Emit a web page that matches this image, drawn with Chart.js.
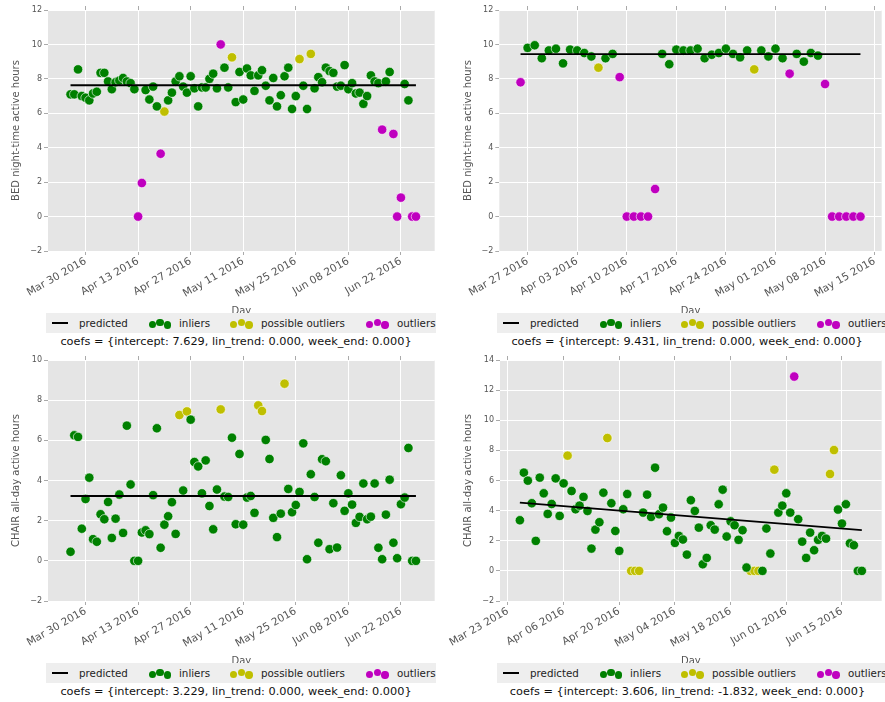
<!DOCTYPE html>
<html>
<head>
<meta charset="utf-8">
<script src="https://cdn.jsdelivr.net/npm/chart.js@4.4.1/dist/chart.umd.min.js"></script>
<style>
  html, body { margin: 0; padding: 0; background: #fff; overflow: hidden; }
  body { width: 885px; height: 702px; position: relative; font-family: "DejaVu Sans", sans-serif; }
  canvas { position: absolute; }
  .legend { position: absolute; height: 20px; width: 390px; background: #eeeeee; color: #222; font-size: 10.3px; z-index: 2; }
  .legend span { position: absolute; top: 0; line-height: 20px; white-space: nowrap; }
  .legend .line { position: absolute; top: 9px; left: 6px; width: 16px; height: 2px; background: #000; }
  .legend .dot { position: absolute; width: 7.4px; height: 7.4px; border-radius: 50%; }
  .coefs { position: absolute; font-size: 11.3px; color: #111; white-space: nowrap; transform: translate(-50%, -50%); z-index: 2; }
</style>
</head>
<body>
<script>
const MONTHS = ['Jan', 'Feb', 'Mar', 'Apr', 'May', 'Jun', 'Jul', 'Aug', 'Sep', 'Oct', 'Nov', 'Dec'];

// class letters: g = inlier, y = possible outlier, m = outlier (one per day from the start date)

// top left: BED night-time
const bedAStart = 'Mar 26 2016';
const bedAHours = [7.1, 7.1, 8.55, 7.0, 6.9, 6.75, 7.15, 7.25, 8.35, 8.35,
  7.85, 7.4, 7.8, 7.9, 8.05, 7.85, 7.75, 7.4, 0, 1.95,
  7.35, 6.8, 7.55, 6.4, 3.65, 6.1, 6.75, 7.2, 7.85, 8.15,
  7.55, 7.2, 8.15, 7.45, 6.4, 7.5, 7.5, 8.0, 8.3, 7.45,
  10.0, 8.65, 7.5, 9.25, 6.65, 8.4, 6.8, 8.6, 8.2, 7.3,
  8.2, 8.5, 7.6, 6.75, 8.05, 6.4, 7.05, 8.15, 8.65, 6.25,
  7.0, 9.15, 7.6, 6.25, 9.45, 7.45, 8.1, 7.8, 8.65, 8.45,
  8.35, 7.55, 7.6, 8.8, 7.4, 7.75, 7.15, 7.2, 6.55, 7.0,
  8.2, 7.85, 7.75, 5.05, 7.85, 8.4, 4.8, 0, 1.1, 7.7,
  6.75, 0, 0];
const bedAClass = 'gggggggggg' + 'ggggggggmm' + 'ggggmygggg' + 'gggggggggg' + 'mggygggggg' +
  'gggggggggg' + 'gyggyggggg' + 'gggggggggg' + 'gggmggmmmg' + 'gmm';
const bedAPredicted = [7.629, 7.629];
const bedATicks = ['Mar 30 2016', 'Apr 13 2016', 'Apr 27 2016', 'May 11 2016', 'May 25 2016', 'Jun 08 2016', 'Jun 22 2016'];
const bedARange = ['Mar 20 2016', 'Jul 01 2016'];
const bedACoefs = 'coefs = {intercept: 7.629, lin_trend: 0.000, week_end: 0.000}';

// top right: BED night-time
const bedBStart = 'Mar 26 2016';
const bedBHours = [7.8, 9.8, 9.95, 9.2, 9.65, 9.75, 8.9, 9.7, 9.65, 9.5,
  9.3, 8.65, 9.2, 9.45, 8.1, 0, 0, 0, 0, 1.6,
  9.45, 8.85, 9.7, 9.65, 9.65, 9.75, 9.2, 9.4, 9.5, 9.75,
  9.45, 9.25, 9.65, 8.55, 9.65, 9.3, 9.75, 9.2, 8.3, 9.45,
  9.0, 9.5, 9.35, 7.7, 0, 0, 0, 0, 0];
const bedBClass = 'm' + 'gggggggggg' + 'y' + 'gg' + 'm' + 'mmmmm' + 'ggggggggggggg' + 'y' + 'gggg' + 'm' + 'gggg' + 'm' + 'mmmmm';
const bedBPredicted = [9.431, 9.431];
const bedBTicks = ['Mar 27 2016', 'Apr 03 2016', 'Apr 10 2016', 'Apr 17 2016', 'Apr 24 2016', 'May 01 2016', 'May 08 2016', 'May 15 2016'];
const bedBRange = ['Mar 23 2016', 'May 16 2016'];
const bedBCoefs = 'coefs = {intercept: 9.431, lin_trend: 0.000, week_end: 0.000}';

// bottom left: CHAIR all-day
const chairAStart = 'Mar 26 2016';
const chairAHours = [0.45, 6.25, 6.17, 1.6, 3.08, 4.14, 1.08, 0.95, 2.32, 2.07,
  2.93, 1.14, 2.1, 3.3, 1.39, 6.73, 3.8, 0, 0, 1.41,
  1.52, 1.33, 3.27, 6.6, 0.65, 1.8, 2.22, 2.92, 1.34, 7.26,
  3.5, 7.44, 7.03, 4.92, 4.7, 3.36, 5.0, 2.73, 1.57, 3.55,
  7.54, 3.2, 3.18, 6.13, 1.82, 5.32, 1.8, 3.15, 3.23, 2.39,
  7.74, 7.46, 6.02, 5.07, 2.14, 1.18, 2.35, 8.82, 3.58, 2.42,
  2.78, 3.43, 5.85, 0.08, 4.31, 3.18, 0.9, 5.06, 4.96, 0.58,
  2.87, 0.66, 4.26, 2.49, 3.36, 2.8, 1.89, 2.19, 3.85, 2.07,
  2.2, 3.85, 0.65, 0.08, 2.3, 4.04, 0.9, 0.13, 2.82, 3.15,
  5.62, 0, 0];
const chairAClass = 'gggggggggg' + 'gggggggggg' + 'gggggggggy' + 'gygggggggg' + 'yggggggggg' +
  'yygggggygg' + 'gggggggggg' + 'gggggggggg' + 'gggggggggg' + 'ggg';
const chairAPredicted = [3.229, 3.229];
const chairATicks = bedATicks;
const chairARange = bedARange;
const chairACoefs = 'coefs = {intercept: 3.229, lin_trend: 0.000, week_end: 0.000}';

// bottom right: CHAIR all-day
const chairBStart = 'Mar 26 2016';
const chairBHours = [3.36, 6.52, 5.99, 4.49, 1.99, 6.19, 5.15, 3.78, 4.44, 6.14,
  3.65, 5.81, 7.65, 5.3, 4.09, 4.33, 4.91, 3.98, 1.48, 2.74,
  3.23, 5.19, 8.82, 4.49, 2.65, 1.33, 4.09, 5.1, 0, 0,
  0, 3.87, 5.06, 3.58, 6.85, 3.76, 4.2, 2.63, 3.54, 1.86,
  2.32, 2.08, 1.08, 4.69, 3.98, 2.87, 0.44, 0.86, 3.03, 2.74,
  4.42, 5.39, 2.28, 3.29, 3.03, 2.06, 2.7, 0.22, 0, 0,
  0, 0, 2.81, 1.15, 6.72, 3.87, 4.33, 5.15, 3.87, 12.9,
  3.43, 1.94, 0.86, 2.54, 1.37, 2.06, 2.32, 2.14, 6.43, 8.02,
  4.07, 3.14, 4.42, 1.83, 1.7, 0, 0];
const chairBClass = 'gggggggggg' + 'ggyggggggg' + 'ggygggggyy' + 'yggggggggg' + 'gggggggggg' +
  'ggggggggyy' + 'ygggyggggm' + 'ggggggggyy' + 'ggggggg';
const chairBPredicted = [4.53, 2.70];
const chairBTicks = ['Mar 23 2016', 'Apr 06 2016', 'Apr 20 2016', 'May 04 2016', 'May 18 2016', 'Jun 01 2016', 'Jun 15 2016'];
const chairBRange = ['Mar 21 2016', 'Jun 25 2016'];
const chairBCoefs = 'coefs = {intercept: 3.606, lin_trend: -1.832, week_end: 0.000}';

const COLORS = { g: '#008000', y: '#bfbf00', m: '#bf00bf' };

function toDay(s) {
  const [mon, d, y] = s.split(' ');
  return Date.UTC(+y, MONTHS.indexOf(mon), +d) / 86400000;
}

function dayLabel(v) {
  const dt = new Date(Math.round(v) * 86400000);
  const d = dt.getUTCDate();
  return MONTHS[dt.getUTCMonth()] + ' ' + (d < 10 ? '0' + d : d) + ' ' + dt.getUTCFullYear();
}

function drawPanel(opts) {
  const canvas = document.createElement('canvas');
  canvas.width = opts.width;
  canvas.height = 317;
  canvas.style.left = opts.left + 'px';
  canvas.style.top = opts.top + 'px';
  document.body.appendChild(canvas);

  const start = toDay(opts.start);
  const groups = { g: [], y: [], m: [] };
  opts.hours.forEach((h, i) => {
    groups[opts.cls[i]].push({ x: start + i, y: h });
  });
  const last = start + opts.hours.length - 1;
  const setTicks = (scale) => {
    scale.ticks = opts.ticks.map(t => ({ value: toDay(t) }));
  };

  const pointSet = (key, label) => ({
    label: label,
    data: groups[key],
    backgroundColor: COLORS[key],
    borderColor: '#ffffff',
    borderWidth: 0.6,
    pointRadius: 4.7,
    order: 2,
  });

  new Chart(canvas.getContext('2d'), {
    type: 'scatter',
    data: {
      datasets: [
        {
          label: 'predicted',
          data: [{ x: start, y: opts.predicted[0] }, { x: last, y: opts.predicted[1] }],
          showLine: true,
          borderColor: '#000',
          borderWidth: 1.8,
          pointRadius: 0,
          order: 0,
        },
        pointSet('g', 'inliers'),
        pointSet('y', 'possible outliers'),
        pointSet('m', 'outliers'),
      ],
    },
    options: {
      responsive: false,
      animation: false,
      events: [],
      layout: { padding: { top: 6, right: opts.padRight, left: 0, bottom: 0 } },
      plugins: { legend: { display: false }, tooltip: { enabled: false } },
      scales: {
        x: {
          type: 'linear',
          min: toDay(opts.range[0]),
          max: toDay(opts.range[1]),
          afterBuildTicks: setTicks,
          afterFit: (scale) => { scale.height = 66; },
          ticks: {
            autoSkip: false,
            maxRotation: 30,
            minRotation: 30,
            padding: 0,
            color: '#555',
            font: { family: 'DejaVu Sans', size: 10.5 },
            callback: (v) => dayLabel(v),
          },
          grid: { color: '#ffffff', lineWidth: 1, tickColor: '#aaa', tickLength: 4 },
          border: { display: false },
          title: {
            display: true,
            text: 'Day',
            color: '#555',
            font: { family: 'DejaVu Sans', size: 10 },
            padding: { top: 0, bottom: 0 },
          },
        },
        xTop: {
          type: 'linear',
          position: 'top',
          min: toDay(opts.range[0]),
          max: toDay(opts.range[1]),
          afterBuildTicks: setTicks,
          afterFit: (scale) => { scale.height = 4; },
          ticks: { display: false },
          grid: { drawOnChartArea: false, tickColor: '#aaa', tickLength: 4 },
          border: { display: false },
        },
        y: {
          min: -2,
          max: opts.ymax,
          afterFit: (scale) => { scale.width = opts.yWidth; },
          ticks: {
            stepSize: 2,
            padding: 2,
            color: '#555',
            font: { family: 'DejaVu Sans', size: 8 },
            callback: (v) => (v < 0 ? '\u2212' + (-v) : String(v)),
          },
          grid: { color: '#ffffff', lineWidth: 1, tickColor: '#aaa', tickLength: 4 },
          border: { display: false },
          title: {
            display: true,
            text: opts.ylabel,
            color: '#555',
            font: { family: 'DejaVu Sans', size: 10 },
            padding: { top: opts.yTitlePad, bottom: 0 },
          },
        },
      },
    },
    plugins: [{
      id: 'plotBackground',
      beforeDraw: (chart) => {
        const a = chart.chartArea;
        const ctx = chart.ctx;
        ctx.save();
        ctx.fillStyle = '#e5e5e5';
        ctx.fillRect(a.left, a.top, a.right - a.left, a.bottom - a.top);
        ctx.restore();
      },
    }],
  });

  // legend strip under the axis
  const lg = document.createElement('div');
  lg.className = 'legend';
  lg.style.left = opts.legendLeft + 'px';
  lg.style.top = (opts.top + 313.3) + 'px';
  let html = '<div class="line"></div><span style="left:33px">predicted</span>';
  const groupsAt = [['g', 106.3, 'inliers', 133], ['y', 187.7, 'possible outliers', 215], ['m', 323.7, 'outliers', 351]];
  const yOff = [1.3, -1, 1.7];
  groupsAt.forEach(([key, x0, text, tx]) => {
    [0, 1, 2].forEach(k => {
      const cx = x0 + k * 7.6;
      html += '<div class="dot" style="background:' + COLORS[key] + ';left:' + (cx - 3.7) + 'px;top:' + (10 + yOff[k] - 3.7) + 'px"></div>';
    });
    html += '<span style="left:' + tx + 'px">' + text + '</span>';
  });
  lg.innerHTML = html;
  document.body.appendChild(lg);

  const cf = document.createElement('div');
  cf.className = 'coefs';
  cf.style.left = opts.coefsX + 'px';
  cf.style.top = (opts.top + 341) + 'px';
  cf.textContent = opts.coefs;
  document.body.appendChild(cf);
}

drawPanel({
  left: 0, top: 0, width: 440, padRight: 4, yWidth: 48, yTitlePad: 10,
  start: bedAStart, hours: bedAHours, cls: bedAClass, predicted: bedAPredicted,
  ticks: bedATicks, range: bedARange, ymax: 12, ylabel: 'BED night-time active hours',
  legendLeft: 46, coefsX: 236, coefs: bedACoefs,
});
drawPanel({
  left: 445, top: 0, width: 442, padRight: 0, yWidth: 54.3, yTitlePad: 17.3,
  start: bedBStart, hours: bedBHours, cls: bedBClass, predicted: bedBPredicted,
  ticks: bedBTicks, range: bedBRange, ymax: 12, ylabel: 'BED night-time active hours',
  legendLeft: 497, coefsX: 687, coefs: bedBCoefs,
});
drawPanel({
  left: 0, top: 350, width: 440, padRight: 4, yWidth: 48, yTitlePad: 10,
  start: chairAStart, hours: chairAHours, cls: chairAClass, predicted: chairAPredicted,
  ticks: chairATicks, range: chairARange, ymax: 10, ylabel: 'CHAIR all-day active hours',
  legendLeft: 46, coefsX: 236, coefs: chairACoefs,
});
drawPanel({
  left: 445, top: 350, width: 442, padRight: 0, yWidth: 55, yTitlePad: 17.3,
  start: chairBStart, hours: chairBHours, cls: chairBClass, predicted: chairBPredicted,
  ticks: chairBTicks, range: chairBRange, ymax: 14, ylabel: 'CHAIR all-day active hours',
  legendLeft: 497, coefsX: 687.5, coefs: chairBCoefs,
});
</script>
</body>
</html>
